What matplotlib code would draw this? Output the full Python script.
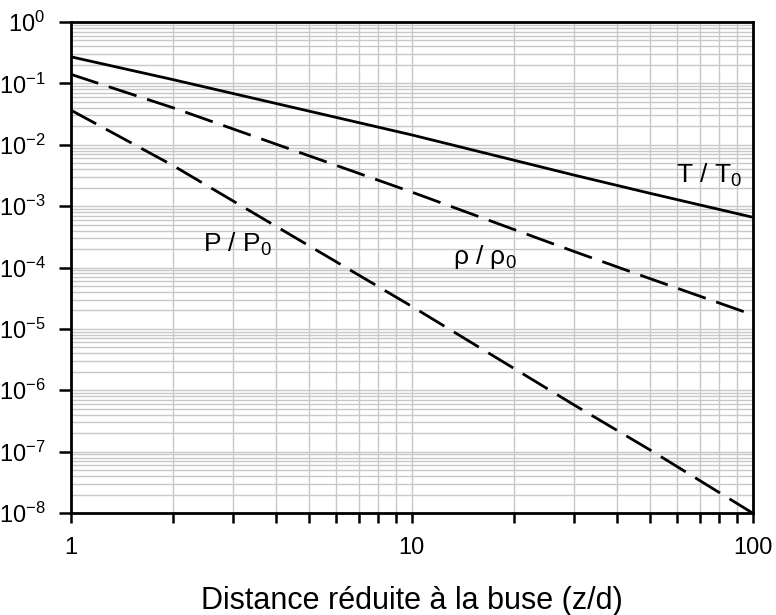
import matplotlib
matplotlib.use("Agg")
import matplotlib.pyplot as plt
from matplotlib.ticker import LogLocator, NullFormatter, FuncFormatter
import math

plt.rcParams['font.family'] = ['Liberation Sans', 'DejaVu Sans']
plt.rcParams['mathtext.fontset'] = 'custom'
plt.rcParams['mathtext.rm'] = 'Liberation Sans'
plt.rcParams['mathtext.it'] = 'Liberation Sans:italic'
plt.rcParams['mathtext.bf'] = 'Liberation Sans:bold'

# Data (x = z/d)
distance = [1, 2, 10, 30, 50, 100]
temperature = [0.272, 0.115, 0.0145, 3.2e-3, 1.62e-3, 6.6e-4]
density = [0.141, 0.040, 1.7e-3, 1.82e-4, 6.6e-5, 1.7e-5]
pressure = [0.0369, 4.57e-3, 2.34e-5, 5.75e-7, 1.07e-7, 1.0e-8]

x_label = "Distance réduite à la buse (z/d)"
labels = ["T / T$_0$", "ρ / ρ$_0$", "P / P$_0$"]

fig = plt.figure(figsize=(7.76, 6.15), dpi=100)
ax = fig.add_axes([70.5 / 776, 1 - 513 / 615, (752.5 - 70.5) / 776, (513 - 22) / 615])
ax.set_xscale('log')
ax.set_yscale('log')
ax.set_xlim(1, 100)
ax.set_ylim(1e-8, 1)

ax.plot(distance, temperature, color='black', lw=2.0, solid_capstyle='butt')
l2, = ax.plot(distance, density, color='black', lw=2.0)
l2.set_dashes([10.5, 4])
l3, = ax.plot(distance, pressure, color='black', lw=2.0)
l3.set_dashes([10.5, 4])

ax.xaxis.set_major_locator(LogLocator(base=10, numticks=10))
ax.xaxis.set_minor_locator(LogLocator(base=10, subs=range(2, 10), numticks=10))
ax.yaxis.set_major_locator(LogLocator(base=10, numticks=20))
ax.yaxis.set_minor_locator(LogLocator(base=10, subs=range(2, 10), numticks=20))
ax.xaxis.set_minor_formatter(NullFormatter())
ax.yaxis.set_minor_formatter(NullFormatter())
ax.xaxis.set_major_formatter(FuncFormatter(lambda v, p: f"{v:g}"))
ax.yaxis.set_major_formatter(FuncFormatter(
    lambda v, p: "$\\mathregular{10^{%d}}$" % round(math.log10(v))))

ax.grid(True, which='both', color='#c8c8c8', lw=1.0)
ax.set_axisbelow(True)

for s in ax.spines.values():
    s.set_linewidth(2.0)

ax.tick_params(axis='x', which='major', direction='out', length=7, width=1.8,
               labelsize=17, pad=10, top=False)
ax.tick_params(axis='x', which='minor', direction='out', length=7, width=1.8, top=False)
ax.tick_params(axis='y', which='major', direction='out', length=9, width=1.8,
               labelsize=17, pad=9, right=False)
ax.tick_params(axis='y', which='minor', length=0, right=False)

ax.set_xlabel(x_label, fontsize=22, labelpad=20)

ax.text(59.7, 2.39e-3, labels[0], fontsize=19, va='baseline', ha='left')
ax.text(13.2, 1.15e-4, labels[1], fontsize=19, va='baseline', ha='left')
ax.text(2.45, 1.8e-4, labels[2], fontsize=19, va='baseline', ha='left')

fig.savefig("out.png", dpi=100)
